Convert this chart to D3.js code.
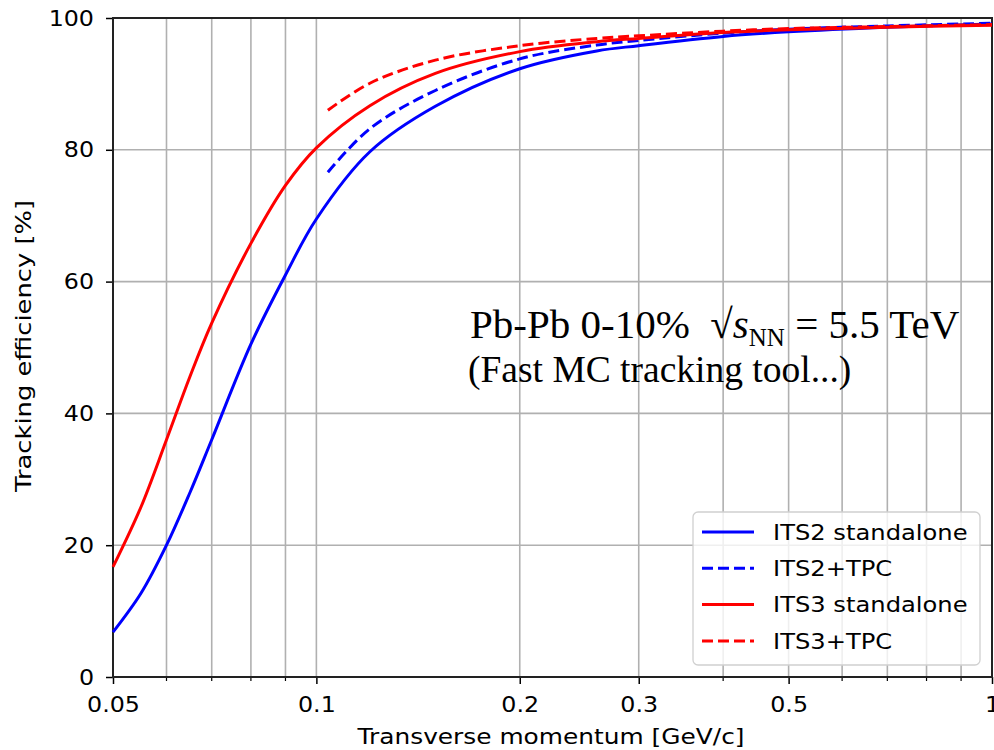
<!DOCTYPE html>
<html>
<head>
<meta charset="utf-8">
<script src="https://cdn.jsdelivr.net/npm/d3@7"></script>
<style>
  body { margin: 0; background: #fff; }
  text { font-family: "DejaVu Sans", sans-serif; fill: #000; }
</style>
</head>
<body>
<script>
// transverse momentum sample points (GeV/c) and efficiencies (%)
var ptStandalone = [0.05, 0.055, 0.06, 0.065, 0.07, 0.08, 0.09, 0.1, 0.12, 0.15, 0.2, 0.26, 0.3, 0.4, 0.5, 0.7, 1.0];
var its2Standalone = [6.8, 12.7, 20, 28, 36, 50.5, 61, 69.5, 79.7, 86.6, 92.3, 95.0, 95.8, 97.2, 97.9, 98.6, 99.1];
var its3Standalone = [16.7, 25.8, 36, 45.6, 53.7, 65.8, 74.6, 80.3, 86.7, 91.6, 94.9, 96.4, 96.9, 97.8, 98.2, 98.6, 98.9];

var ptTpc = [0.104, 0.12, 0.15, 0.2, 0.26, 0.3, 0.4, 0.5, 0.7, 1.0];
var its2Tpc = [76.6, 83.2, 89.0, 93.8, 95.9, 96.6, 97.7, 98.3, 98.8, 99.2];
var its3Tpc = [86, 90.1, 93.6, 95.8, 96.9, 97.3, 98.0, 98.4, 98.7, 99.0];

var xMajor = [0.05, 0.1, 0.2, 0.3, 0.5, 1];
var xMinor = [0.06, 0.07, 0.08, 0.09, 0.4, 0.6, 0.7, 0.8, 0.9];
var yTicks = [0, 20, 40, 60, 80, 100];

var series = [
  { name: "ITS2 standalone", x: ptStandalone, y: its2Standalone, color: "#0000ff", dash: null },
  { name: "ITS2+TPC", x: ptTpc, y: its2Tpc, color: "#0000ff", dash: "11,5" },
  { name: "ITS3 standalone", x: ptStandalone, y: its3Standalone, color: "#ff0000", dash: null },
  { name: "ITS3+TPC", x: ptTpc, y: its3Tpc, color: "#ff0000", dash: "11,5" }
];

var width = 994, height = 750;
var margin = { top: 18, right: 2, bottom: 73, left: 113 };

var svg = d3.select("body")
    .append("svg")
    .attr("width", width)
    .attr("height", height);

// the reference glyphs are a bit wider than DejaVu, stretch them
function stretch(sel, f) {
    sel.each(function () {
        var w = this.getComputedTextLength();
        d3.select(this)
            .attr("textLength", w * f)
            .attr("lengthAdjust", "spacingAndGlyphs");
    });
}

var x = d3.scaleLog()
    .domain([0.05, 1])
    .range([margin.left, width - margin.right]);

var y = d3.scaleLinear()
    .domain([0, 100])
    .range([height - margin.bottom, margin.top]);

// grid
var grid = svg.append("g").attr("stroke", "#b0b0b0").attr("stroke-width", 1.6);
grid.selectAll(".vgrid")
    .data(xMajor.concat(xMinor))
    .enter()
    .append("line")
    .attr("x1", d => x(d)).attr("x2", d => x(d))
    .attr("y1", y(0)).attr("y2", y(100));
grid.selectAll(".hgrid")
    .data(yTicks)
    .enter()
    .append("line")
    .attr("x1", x(0.05)).attr("x2", x(1))
    .attr("y1", d => y(d)).attr("y2", d => y(d));

// axes
var gx = svg.append("g")
    .attr("transform", "translate(0," + y(0) + ")")
    .call(d3.axisBottom(x)
        .tickValues(xMajor)
        .tickFormat(d3.format("~g"))
        .tickSize(7)
        .tickPadding(12));

gx.selectAll(".minor")
    .data(xMinor)
    .enter()
    .append("line")
    .attr("class", "minor")
    .attr("x1", d => x(d)).attr("x2", d => x(d))
    .attr("y1", 0).attr("y2", 4)
    .attr("stroke", "#000")
    .attr("stroke-width", 1.2);

var gy = svg.append("g")
    .attr("transform", "translate(" + x(0.05) + ",0)")
    .call(d3.axisLeft(y).tickValues(yTicks).tickSize(7).tickPadding(12));

svg.selectAll(".tick text")
    .style("font-size", "22px")
    .style("font-family", "DejaVu Sans");
stretch(svg.selectAll(".tick text"), 1.08);
svg.selectAll(".tick line").attr("stroke-width", 1.5);
svg.selectAll(".domain").remove();

// frame
svg.append("rect")
    .attr("x", x(0.05))
    .attr("y", y(100))
    .attr("width", x(1) - x(0.05))
    .attr("height", y(0) - y(100))
    .attr("fill", "none")
    .attr("stroke", "#222")
    .attr("stroke-width", 2);

// curves
var line = d3.line()
    .x(d => x(d[0]))
    .y(d => y(d[1]))
    .curve(d3.curveCatmullRom.alpha(0.5));

svg.selectAll(".curve")
    .data(series)
    .enter()
    .append("path")
    .attr("class", "curve")
    .attr("d", d => line(d.x.map((v, i) => [v, d.y[i]])))
    .attr("fill", "none")
    .attr("stroke", d => d.color)
    .attr("stroke-width", 3)
    .attr("stroke-dasharray", d => d.dash);

// axis labels
var xLabel = svg.append("text")
    .attr("x", 551)
    .attr("y", 744)
    .attr("text-anchor", "middle")
    .style("font-size", "22px")
    .text("Transverse momentum [GeV/c]");
xLabel.attr("textLength", 387).attr("lengthAdjust", "spacingAndGlyphs");

var yLabel = svg.append("text")
    .attr("transform", "translate(31,346) rotate(-90)")
    .attr("text-anchor", "middle")
    .style("font-size", "22px")
    .text("Tracking efficiency [%]");
yLabel.attr("textLength", 292).attr("lengthAdjust", "spacingAndGlyphs");

// annotation
var note = svg.append("text")
    .attr("x", 470)
    .attr("y", 338)
    .style("font-family", "Liberation Serif")
    .style("font-size", "41px")
    .style("white-space", "pre");
note.append("tspan").text("Pb-Pb 0-10%  \u221A");
note.append("tspan").style("font-style", "italic").text("s");
note.append("tspan").attr("dy", 8).style("font-size", "25px").text("NN");
note.append("tspan").attr("dy", -8).text(" = 5.5 TeV");

svg.append("text")
    .attr("x", 468)
    .attr("y", 382)
    .style("font-family", "Liberation Serif")
    .style("font-size", "37.5px")
    .text("(Fast MC tracking tool...)");

// legend
var legend = svg.append("g").attr("transform", "translate(693,512)");
legend.append("rect")
    .attr("width", 287)
    .attr("height", 153)
    .attr("rx", 5)
    .attr("fill", "#fff")
    .attr("fill-opacity", 0.8)
    .attr("stroke", "#d0d0d0")
    .attr("stroke-width", 1.3);

var rows = legend.selectAll(".row")
    .data(series)
    .enter()
    .append("g")
    .attr("transform", (d, i) => "translate(0," + (20 + i * 36.3) + ")");
rows.append("line")
    .attr("x1", 9).attr("x2", 61)
    .attr("stroke", d => d.color)
    .attr("stroke-width", 3)
    .attr("stroke-dasharray", d => d.dash);
rows.append("text")
    .attr("x", 80)
    .attr("dy", "0.35em")
    .style("font-size", "22px")
    .text(d => d.name);
stretch(rows.selectAll("text"), 1.1);
</script>
</body>
</html>
